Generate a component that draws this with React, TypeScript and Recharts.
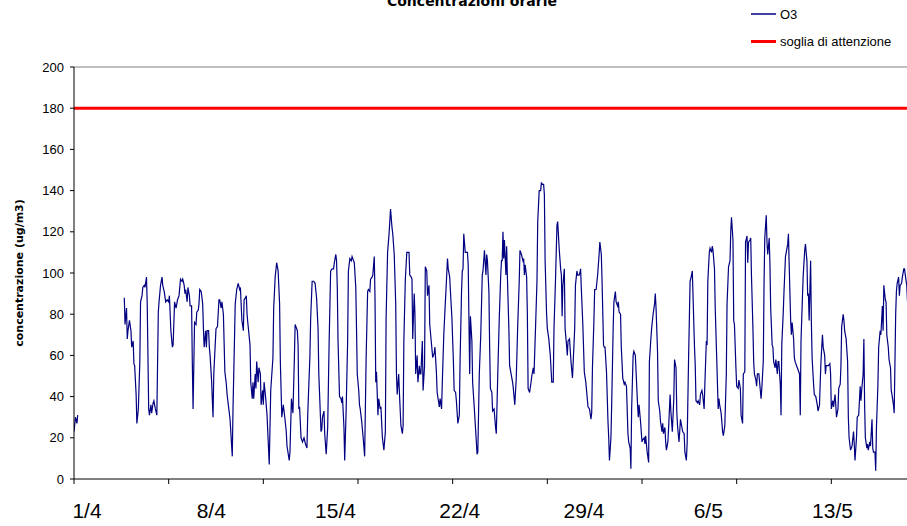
import React from 'react';
import { LineChart, Line, XAxis, YAxis, ReferenceLine } from 'recharts';

// hourly O3 readings, [hour since 1/4 00:00, ug/m3], null = missing data
const o3Week1 = [
  [0, 23], [2, 30], [4, 27], [5, 31], [6, null],
  [68, 88], [69, 75], [71, 83], [72, 68], [73, 72], [75, 77], [77, 72], [78, 64], [80, 67], [81, 56], [82, 55], [84, 41], [85, 27], [87, 34], [89, 57], [90, 86], [92, 89], [93, 93], [95, 94], [96, 93], [98, 98], [99, 85],
  [101, 34], [102, 31], [104, 36], [105, 32], [107, 37], [108, 38], [110, 34], [112, 31], [114, 81], [115, 86], [117, 94], [119, 98], [120, 94], [122, 91], [124, 86], [126, 87], [128, 86], [129, 89], [131, 72], [133, 64], [134, 65],
  [136, 86], [138, 83], [140, 87], [142, 89], [144, 97], [146, 96], [147, 97], [149, 94], [150, 90], [151, 92], [153, 86], [154, 93], [156, 89], [157, 84], [159, 84], [160, 56], [161, 34], [163, 76], [165, 75], [166, 81],
];
const o3Week2 = [
  [168, 82], [169, 85], [170, 92], [172, 91], [174, 85], [175, 73], [176, 64], [178, 72], [179, 64], [180, 72], [182, 72], [183, 64], [184, 60], [186, 48], [188, 30], [189, 51], [192, 73], [194, 74], [196, 87], [197, 87],
  [199, 83], [200, 86], [202, 80], [204, 52], [206, 46], [207, 41], [209, 35], [211, 29], [214, 11], [215, 34], [218, 85], [220, 92], [222, 95], [224, 92], [225, 93], [227, 77], [229, 72], [230, 87], [232, 88], [233, 89],
  [234, 80], [235, 76], [238, 65], [239, 47], [241, 39], [242, 47], [243, 39], [245, 51], [246, 44], [247, 57], [249, 47], [250, 54], [252, 51], [253, 36], [255, 43], [256, 36], [257, 47], [259, 40], [261, 31], [263, 15],
  [264, 7], [266, 43], [269, 59], [270, 83], [272, 98], [274, 105], [276, 101], [278, 85], [279, 57], [281, 30], [283, 36], [285, 30], [287, 23], [288, 16], [291, 9], [292, 13], [294, 39], [296, 32], [298, 59], [299, 75],
  [301, 73], [302, 72], [303, 65], [304, 34], [305, 35], [307, 20], [309, 18], [311, 20], [313, 17], [315, 15], [316, 31], [319, 60], [320, 78], [322, 96], [324, 96], [326, 95], [328, 88], [330, 73], [331, 51], [334, 23], [335, 24],
];
const o3Week3 = [
  [336, 30], [338, 33], [339, 22], [341, 12], [343, 25], [345, 67], [347, 101], [349, 102], [351, 102], [352, 105], [354, 109], [355, 106], [356, 93], [357, 67], [359, 40], [361, 39], [362, 37], [363, 40], [365, 25], [366, 9],
  [368, 34], [370, 67], [371, 101], [373, 107], [375, 106], [376, 108], [378, 106], [379, 105], [381, 93], [382, 73], [383, 51], [385, 43], [386, 36], [387, 34], [389, 28], [391, 20], [393, 11], [395, 59], [397, 91], [398, 92],
  [400, 91], [401, 97], [403, 98], [404, 99], [406, 108], [407, 88], [408, 47], [409, 52], [411, 31], [412, 39], [414, 34], [415, 35], [417, 20], [419, 14], [421, 23], [422, 78], [424, 110], [426, 119], [428, 131], [430, 122],
  [431, 119], [433, 109], [435, 85], [436, 51], [437, 41], [439, 51], [440, 42], [442, 26], [444, 22], [445, 26], [446, 67], [448, 97], [450, 110], [452, 110], [453, 110], [454, 99], [456, 98], [457, 97], [458, 68], [460, 90],
  [461, 80], [462, 51], [464, 60], [465, 47], [467, 55], [468, 51], [469, 51], [471, 67], [472, 43], [474, 55], [475, 103], [477, 101], [478, 89], [480, 94], [481, 75], [483, 67], [485, 59], [487, 61], [488, 64], [490, 52],
  [491, 42], [494, 35], [495, 39], [497, 34], [498, 47], [500, 70], [502, 85], [503, 92],
];
const o3Week4 = [
  [505, 107], [506, 102], [508, 98], [509, 91], [511, 78], [513, 57], [514, 43], [516, 42], [517, 38], [519, 27], [521, 31], [522, 57], [524, 91], [525, 101], [526, 102], [527, 119], [529, 110], [530, 110], [532, 110], [533, 104],
  [535, 51], [536, 79], [538, 67], [539, 47], [541, 36], [543, 24], [545, 12], [546, 13], [548, 51], [550, 70], [552, 99], [553, 101], [555, 111], [557, 99], [558, 109], [559, 106], [561, 91], [562, 64], [563, 44], [565, 42],
  [566, 33], [568, 34], [570, 25], [571, 22], [573, 51], [575, 78], [577, 99], [578, 106], [579, 106], [580, 120], [581, 107], [582, 116], [584, 99], [585, 113], [586, 98], [588, 73], [589, 55], [591, 51], [593, 47], [594, 44],
  [596, 36], [598, 49], [600, 75], [602, 96], [603, 111], [605, 109], [607, 106], [608, 107], [609, 99], [610, 104], [612, 98], [613, 80], [614, 44], [616, 42], [618, 47], [619, 50], [621, 54], [622, 51], [624, 73], [626, 96],
  [627, 125], [629, 140], [631, 140], [632, 144], [633, 143], [635, 143], [636, 138], [637, 106], [639, 80], [640, 73], [642, 68], [644, 60], [646, 47], [648, 47], [649, 73], [651, 96], [653, 123], [654, 125], [656, 112], [658, 102],
  [659, 99], [660, 79], [661, 94], [663, 102], [664, 73], [666, 65], [667, 60], [668, 67], [670, 68],
];
const o3Week5 = [
  [672, 57], [674, 49], [675, 57], [677, 73], [678, 94], [680, 101], [681, 99], [683, 99], [684, 100], [685, 102], [686, 92], [688, 75], [690, 52], [692, 47], [693, 43], [695, 35], [697, 34], [699, 29], [700, 32], [701, 54],
  [703, 77], [704, 92], [706, 92], [708, 99], [709, 104], [710, 109], [711, 115], [713, 109], [714, 96], [716, 65], [717, 64], [718, 64], [720, 52], [722, 28], [723, 20], [724, 9], [726, 20], [727, 36], [729, 73], [730, 86],
  [732, 91], [733, 86], [735, 84], [736, 86], [737, 81], [739, 80], [740, 64], [742, 49], [744, 46], [745, 47], [747, 45], [749, 22], [750, 18], [752, 15], [753, 5], [754, 34], [756, 60], [757, 62], [759, 60], [760, 52],
  [762, 36], [763, 30], [764, 36], [766, 28], [768, 18], [769, 19], [771, 20], [772, 17], [773, 21], [775, 13], [777, 8], [778, 57], [780, 68], [781, 73], [783, 80], [785, 85], [786, 90], [787, 83], [789, 62], [790, 38],
  [792, 33], [793, 28], [795, 23], [796, 27], [797, 22], [799, 25], [800, 18], [801, 14], [803, 18], [804, 25], [806, 41], [807, 33], [808, 28], [809, 23], [811, 39], [812, 58], [814, 54], [815, 33], [816, 26], [818, 18],
  [819, 23], [820, 29], [822, 25], [823, 23], [825, 22], [826, 13], [828, 9], [829, 17], [831, 59], [832, 77], [833, 96], [835, 99], [836, 101], [837, 89], [839, 64],
];
const o3Week6 = [
  [840, 55], [841, 38], [843, 37], [844, 38], [846, 36], [847, 41], [849, 43], [850, 41], [852, 34], [853, 46], [855, 67], [856, 65], [857, 96], [859, 110], [860, 112], [862, 110], [863, 113], [864, 111], [866, 102], [867, 83],
  [869, 59], [871, 34], [872, 39], [873, 36], [875, 32], [877, 23], [878, 21], [880, 26], [882, 51], [883, 85], [885, 103], [887, 106], [888, 120], [889, 127], [891, 116], [892, 77], [893, 75], [895, 54], [896, 45], [898, 44],
  [899, 48], [901, 44], [902, 31], [904, 27], [905, 51], [907, 52], [908, 115], [910, 118], [911, 105], [912, 115], [914, 116], [915, 117], [916, 99], [918, 73], [919, 57], [920, 51], [922, 48], [923, 45], [924, 51], [926, 51],
  [928, 43], [929, 39], [930, 44], [932, 57], [933, 94], [934, 117], [936, 128], [937, 115], [938, 109], [940, 117], [941, 104], [942, 83], [944, 65], [945, 64], [946, 57], [948, 54], [949, 58], [951, 51], [952, 57], [953, 57],
  [955, 46], [956, 31], [957, 65], [959, 81], [960, 91], [962, 108], [963, 110], [965, 114], [966, 119], [967, 104], [969, 77], [970, 70], [971, 76], [973, 68], [974, 59], [975, 57], [977, 55], [979, 53], [981, 51], [982, 31],
  [983, 67], [985, 89], [986, 99], [988, 111], [989, 114], [991, 106], [992, 89], [993, 90], [994, 77], [996, 106], [997, 76], [998, 59], [1000, 46], [1001, 41], [1003, 40], [1005, 36], [1006, 33],
];
const o3Week7 = [
  [1008, 36], [1009, 47], [1010, 57], [1012, 70], [1013, 64], [1015, 60], [1016, 51], [1017, 55], [1019, 55], [1020, 55], [1022, 56], [1023, 51], [1024, 34], [1026, 38], [1027, 35], [1029, 41], [1030, 36], [1031, 30], [1033, 34], [1034, 44],
  [1036, 46], [1037, 55], [1038, 74], [1040, 80], [1041, 77], [1042, 72], [1044, 68], [1046, 57], [1047, 30], [1048, 20], [1050, 14], [1051, 15], [1052, 16], [1054, 23], [1055, 17], [1056, 9], [1058, 20], [1059, 30], [1061, 31], [1062, 38],
  [1063, 45], [1064, 38], [1065, 43], [1067, 51], [1068, 68], [1069, 36], [1070, 20], [1072, 15], [1073, 17], [1074, 14], [1076, 18], [1077, 16], [1079, 29], [1080, 15], [1081, 13], [1083, 13], [1084, 4], [1085, 25], [1087, 46], [1088, 64],
  [1090, 72], [1091, 70], [1093, 84], [1094, 72], [1095, 94], [1097, 87], [1098, 86], [1099, 70], [1101, 64], [1102, 58], [1104, 54], [1105, 43], [1106, 41], [1108, 36], [1109, 32], [1111, 80], [1112, 91], [1113, 95], [1115, 98], [1116, 89],
  [1117, 94], [1119, 95], [1120, 98], [1122, 102], [1123, 102], [1124, 99], [1126, 94], [1127, 86],
];

const SOGLIA = 180;
const dateLabels = ['1/4', '8/4', '15/4', '22/4', '29/4', '6/5', '13/5'];
const yTicks = [0, 20, 40, 60, 80, 100, 120, 140, 160, 180, 200];
const HOURS_SPAN = 1152; // 48 days
const MARK_STEP = 128; // excel puts a tick mark every 128 categories

const o3Data = [...o3Week1, ...o3Week2, ...o3Week3, ...o3Week4, ...o3Week5, ...o3Week6, ...o3Week7].map(([h, v]) => ({ h, v }));

const labelHours = dateLabels.map((_, i) => i * 168);
const markHours: number[] = [];
for (let h = 0; h <= HOURS_SPAN; h += MARK_STEP) markHours.push(h);
const xTicks = Array.from(new Set([...markHours, ...labelHours])).sort((a, b) => a - b);

const sans = '"Liberation Sans", Arial, sans-serif';
const boldFont = '"DejaVu Sans", Verdana, sans-serif';

function DateTick(props: any) {
  const { x, y, payload } = props;
  const h = payload.value;
  const li = labelHours.indexOf(h);
  return (
    <g>
      {markHours.includes(h) && <line x1={x} y1={y} x2={x} y2={y + 5} stroke="#000" />}
      {li >= 0 && (
        <text x={x + 13} y={y + 39} textAnchor="middle" fontSize={21} fontFamily={sans} fill="#000">
          {dateLabels[li]}
        </text>
      )}
    </g>
  );
}

export default function App() {
  return (
    <div style={{ position: 'fixed', left: 0, top: 0, width: 907, height: 526, overflow: 'hidden', background: '#fff' }}>
      <LineChart width={930} height={526} data={o3Data} margin={{ top: 67, right: 4, bottom: 0, left: 0 }}>
        <XAxis
          type="number"
          dataKey="h"
          domain={[0, HOURS_SPAN]}
          ticks={xTicks}
          interval={0}
          height={47}
          tickSize={0}
          tickMargin={0}
          tickLine={false}
          axisLine={{ stroke: '#000' }}
          tick={<DateTick />}
          allowDataOverflow
        />
        <YAxis
          domain={[0, 200]}
          ticks={yTicks}
          interval={0}
          width={74}
          tickSize={4}
          tickMargin={6}
          tickLine={{ stroke: '#000' }}
          axisLine={{ stroke: '#000' }}
          tick={{ fontSize: 13, fill: '#000', fontFamily: sans }}
        />
        <ReferenceLine y={200} stroke="#808080" />
        <ReferenceLine y={SOGLIA} stroke="#ff0000" strokeWidth={3} />
        <Line
          type="linear"
          dataKey="v"
          stroke="#000080"
          strokeWidth={1.2}
          dot={false}
          connectNulls={false}
          isAnimationActive={false}
        />
      </LineChart>
      <svg width={907} height={526} style={{ position: 'absolute', left: 0, top: 0, pointerEvents: 'none' }}>
        <text x={472} y={6} textAnchor="middle" fontSize={14} fontWeight="bold" fontFamily={boldFont} fill="#000">
          Concentrazioni orarie
        </text>
        <text
          x={19}
          y={273}
          transform="rotate(-90 19 273)"
          textAnchor="middle"
          dominantBaseline="central"
          fontSize={11}
          fontWeight="bold"
          fontFamily={boldFont}
          fill="#000"
        >
          concentrazione (ug/m3)
        </text>
        <line x1={751} y1={14} x2={776} y2={14} stroke="#000080" strokeWidth={1.5} />
        <text x={780} y={14} dominantBaseline="central" fontSize={13} fontFamily={sans} fill="#000">O3</text>
        <line x1={751} y1={41.5} x2={776} y2={41.5} stroke="#ff0000" strokeWidth={3} />
        <text x={780} y={41.5} dominantBaseline="central" fontSize={13} fontFamily={sans} fill="#000">soglia di attenzione</text>
      </svg>
    </div>
  );
}
